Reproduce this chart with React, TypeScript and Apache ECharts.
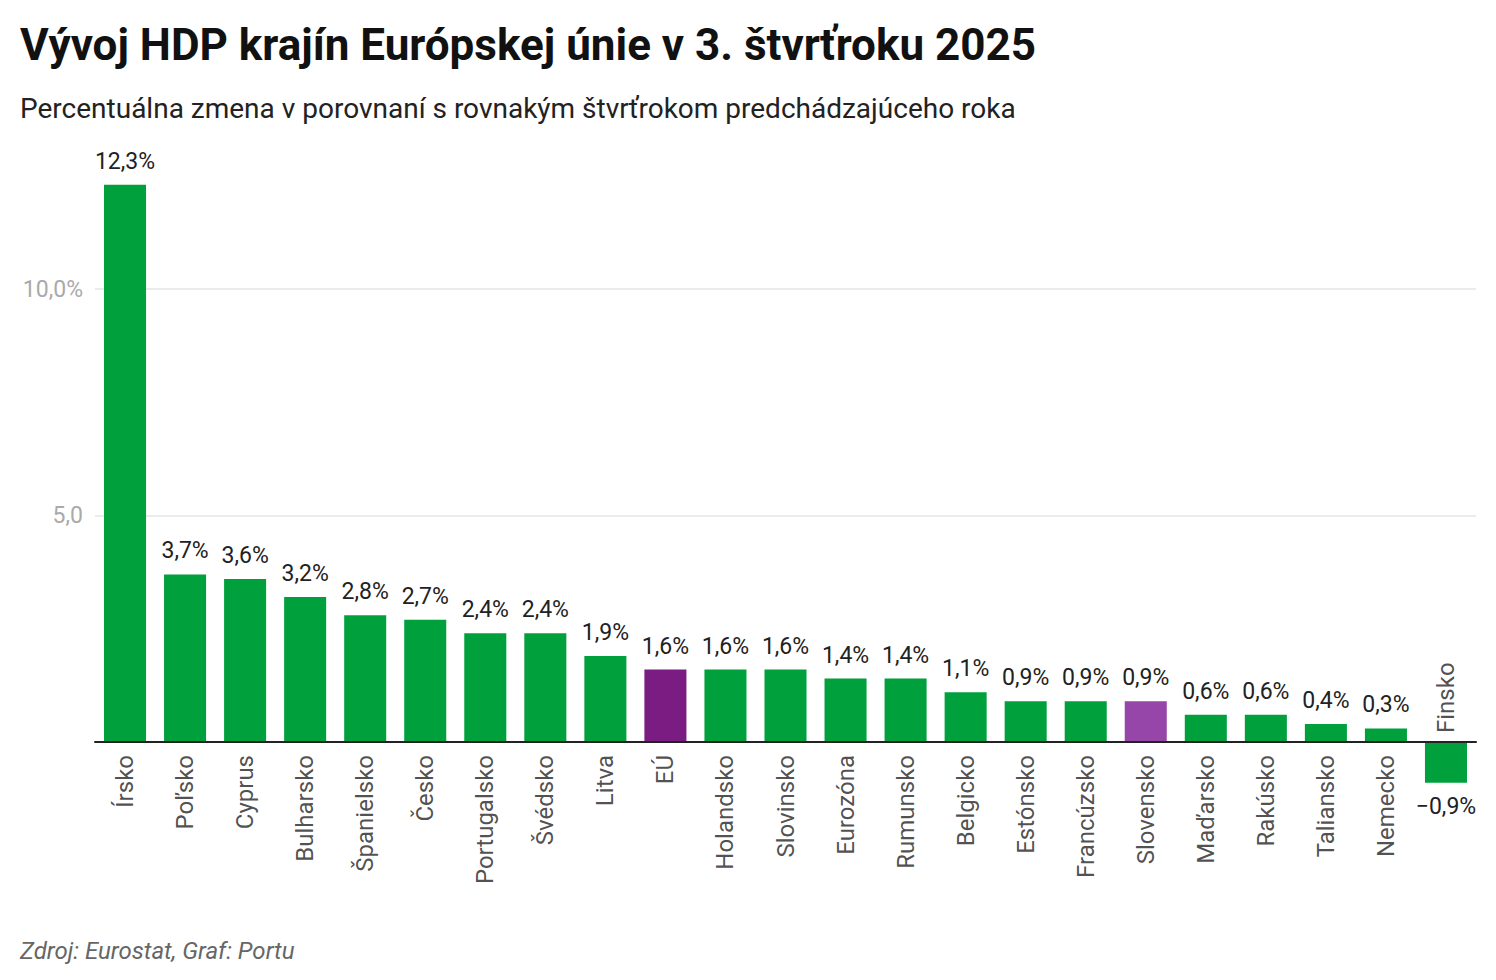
import React, { useEffect, useRef } from "react";
import * as echarts from "echarts";

const categories = [
  "Írsko", "Poľsko", "Cyprus", "Bulharsko", "Španielsko", "Česko", "Portugalsko",
  "Švédsko", "Litva", "EÚ", "Holandsko", "Slovinsko", "Eurozóna", "Rumunsko",
  "Belgicko", "Estónsko", "Francúzsko", "Slovensko", "Maďarsko", "Rakúsko",
  "Taliansko", "Nemecko", "Finsko",
];
const values = [
  12.3, 3.7, 3.6, 3.2, 2.8, 2.7, 2.4, 2.4, 1.9, 1.6, 1.6, 1.6, 1.4, 1.4, 1.1,
  0.9, 0.9, 0.9, 0.6, 0.6, 0.4, 0.3, -0.9,
];
const highlight: Record<string, string> = { "EÚ": "#7a1c82", "Slovensko": "#9646a8" };
const yTickLabels: Record<number, string> = { 5: "5,0", 10: "10,0%" };

const TITLE = "Vývoj HDP krajín Európskej únie v 3. štvrťroku 2025";
const SUBTITLE = "Percentuálna zmena v porovnaní s rovnakým štvrťrokom predchádzajúceho roka";
const SOURCE = "Zdroj: Eurostat, Graf: Portu";

const GREEN = "#00a03d";
const FONT = "Roboto, 'Noto Sans', sans-serif";

const fmt = (v: number) => (v < 0 ? "\u2212" : "") + Math.abs(v).toFixed(1).replace(".", ",") + "%";

export default function App() {
  const ref = useRef<HTMLDivElement>(null);
  useEffect(() => {
    document.body.style.margin = "0";
    if (!ref.current) return;
    const chart = echarts.init(ref.current, undefined, { renderer: "svg" });
    chart.setOption({
      animation: false,
      textStyle: { fontFamily: FONT },
      title: [
        {
          text: TITLE,
          left: 20,
          top: 23,
          padding: 0,
          textStyle: { fontFamily: FONT, fontSize: 44, fontWeight: "bold", color: "#111" },
        },
        {
          text: SUBTITLE,
          left: 20,
          top: 94,
          padding: 0,
          textStyle: { fontFamily: FONT, fontSize: 28, fontWeight: "normal", color: "#222" },
        },
        {
          text: SOURCE,
          left: 20,
          top: 939,
          padding: 0,
          textStyle: { fontFamily: FONT, fontSize: 24, fontWeight: "normal", fontStyle: "italic", color: "#666" },
        },
      ],
      grid: { left: 95, right: 20, top: 62.5, bottom: 11.5, containLabel: false, outerBoundsMode: "none" },
      xAxis: {
        type: "category",
        data: categories,
        axisLine: { onZero: true, lineStyle: { color: "#222", width: 2 } },
        axisTick: { show: false },
        axisLabel: { show: false },
        z: 5,
      },
      yAxis: {
        type: "value",
        min: -5,
        max: 15,
        interval: 5,
        axisLine: { show: false },
        axisTick: { show: false },
        splitLine: {
          show: true,
          lineStyle: {
            color: ["rgba(0,0,0,0)", "rgba(0,0,0,0)", "#e4e4e4", "#e4e4e4", "rgba(0,0,0,0)"],
            width: 1.5,
          },
        },
        axisLabel: {
          fontSize: 23,
          color: "#aaaaaa",
          margin: 12,
          fontFamily: FONT,
          formatter: (v: number) => yTickLabels[v] ?? "",
        },
      },
      series: [
        {
          type: "bar",
          barCategoryGap: "30%",
          data: values.map((v, i) => ({
            value: v,
            itemStyle: { color: highlight[categories[i]] ?? GREEN },
            label: {
              show: true,
              position: v < 0 ? "bottom" : "top",
              distance: 12,
              formatter: () => fmt(v),
              fontSize: 23,
              color: "#222",
              fontFamily: FONT,
            },
          })),
        },
        {
          type: "scatter",
          symbolSize: 0,
          silent: true,
          z: 10,
          data: categories.map((c, i) => {
            const neg = values[i] < 0;
            return {
              value: 0,
              label: {
                show: true,
                position: neg ? "top" : "bottom",
                distance: neg ? 9 : 13,
                rotate: 90,
                align: neg ? "left" : "right",
                verticalAlign: "middle",
                fontSize: 24,
                color: "#222",
                fontFamily: FONT,
                formatter: () => c,
              },
            };
          }),
        },
      ],
    });
    return () => chart.dispose();
  }, []);
  return <div ref={ref} style={{ width: 1496, height: 980 }} />;
}
